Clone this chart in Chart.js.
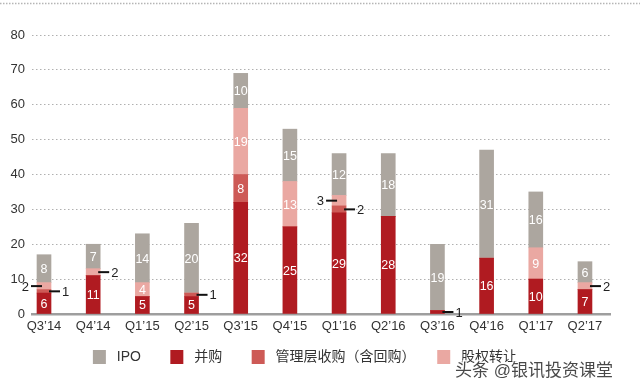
<!DOCTYPE html>
<html>
<head>
<meta charset="utf-8">
<script src="https://cdn.jsdelivr.net/npm/chart.js@4.4.0/dist/chart.umd.min.js"></script>
<style>
html, body { margin: 0; padding: 0; background: #fff; }
#wrap { width: 640px; height: 388px; position: relative; }
</style>
</head>
<body>
<div id="wrap"><canvas id="myChart"></canvas></div>
<script>
var quarters = ["Q3’14", "Q4’14", "Q1’15", "Q2’15", "Q3’15", "Q4’15", "Q1’16", "Q2’16", "Q3’16", "Q4’16", "Q1’17", "Q2’17"];

// stacked bottom to top
var mna = [6, 11, 5, 5, 32, 25, 29, 28, 1, 16, 10, 7];     // 并购
var mbo = [1, 0, 0, 1, 8, 0, 2, 0, 0, 0, 0, 0];            // 管理层收购（含回购）
var equity = [2, 2, 4, 0, 19, 13, 3, 0, 0, 0, 9, 2];       // 股权转让
var ipo = [8, 7, 14, 20, 10, 15, 12, 18, 19, 31, 16, 6];   // IPO

var legendOrder = ["IPO", "并购", "管理层收购（含回购）", "股权转让"];

var latin = "'Liberation Sans', Arial, sans-serif";
var cjk = "'Liberation Sans', 'Noto Sans CJK SC', sans-serif";

var toPoints = (arr) => arr.map((v, i) => ({ x: i, y: v }));

var barLabels = {
    id: 'barLabels',
    afterDatasetsDraw(chart) {
        var ctx = chart.ctx;
        ctx.save();
        chart.data.datasets.forEach((ds, di) => {
            var meta = chart.getDatasetMeta(di);
            meta.data.forEach((bar, i) => {
                var v = ds.data[i].y;
                if (!v) return;
                var p = bar.getProps(['x', 'y', 'base', 'width'], true);
                var cy = (p.y + p.base) / 2;
                if (v >= 4) {
                    ctx.fillStyle = '#fff';
                    ctx.font = '12.5px ' + latin;
                    ctx.textAlign = 'center';
                    ctx.textBaseline = 'middle';
                    ctx.fillText(v, p.x, cy + 1);
                    return;
                }
                // small segment: leader line and number outside
                var left = ds.label === '股权转让' && mbo[i] > 0 && mbo[i] < 4;
                var edge = left ? p.x - p.width / 2 : p.x + p.width / 2;
                ctx.strokeStyle = '#111';
                ctx.lineWidth = 2;
                ctx.beginPath();
                if (left) {
                    ctx.moveTo(edge + 5, cy);
                    ctx.lineTo(edge - 6, cy);
                } else {
                    ctx.moveTo(edge - 2, cy);
                    ctx.lineTo(edge + 9, cy);
                }
                ctx.stroke();
                ctx.fillStyle = '#222';
                ctx.font = '13px ' + latin;
                ctx.textBaseline = 'middle';
                ctx.textAlign = left ? 'right' : 'left';
                ctx.fillText(v, left ? edge - 8 : edge + 11, cy + 1);
            });
        });
        ctx.restore();
    }
};

var decorations = {
    id: 'decorations',
    beforeDraw(chart) {
        var ctx = chart.ctx;
        ctx.save();
        ctx.strokeStyle = '#b5b5b5';
        ctx.lineWidth = 1.5;
        ctx.setLineDash([1.5, 1.5]);
        ctx.beginPath();
        ctx.moveTo(0, 3.5);
        ctx.lineTo(chart.width, 3.5);
        ctx.stroke();
        ctx.restore();
    },
    afterDraw(chart) {
        var ctx = chart.ctx;
        ctx.save();
        ctx.font = '17px ' + cjk;
        ctx.textBaseline = 'middle';
        ctx.textAlign = 'left';
        ctx.lineWidth = 3;
        ctx.strokeStyle = 'rgba(255,255,255,0.8)';
        ctx.strokeText('头条 @银讯投资课堂', 455, 371);
        ctx.fillStyle = 'rgba(40,40,40,0.85)';
        ctx.fillText('头条 @银讯投资课堂', 455, 371);
        ctx.restore();
    }
};

var trailing = { 'IPO': '     ', '并购': '     ', '管理层收购（含回购）': '   ', '股权转让': '' };

new Chart(document.getElementById('myChart'), {
    type: 'bar',
    data: {
        datasets: [
            { label: '并购', data: toPoints(mna), backgroundColor: '#b01b21' },
            { label: '管理层收购（含回购）', data: toPoints(mbo), backgroundColor: '#cd5a56' },
            { label: '股权转让', data: toPoints(equity), backgroundColor: '#eaa8a2' },
            { label: 'IPO', data: toPoints(ipo), backgroundColor: '#aca69f' }
        ]
    },
    options: {
        responsive: true,
        maintainAspectRatio: false,
        animation: false,
        barThickness: 14,
        layout: { padding: { top: 35, right: 30, bottom: 14, left: 0 } },
        scales: {
            x: {
                type: 'linear',
                stacked: true,
                offset: false,
                min: -0.244,
                max: 11.509,
                afterBuildTicks: (s) => { s.ticks = quarters.map((q, i) => ({ value: i })); },
                afterFit: (s) => { s.height = 26; },
                grid: { display: false, drawTicks: false },
                border: { display: true, color: '#9e9e9e', width: 2.5 },
                ticks: {
                    autoSkip: false,
                    maxRotation: 0,
                    padding: 5,
                    color: '#333',
                    font: { family: latin, size: 13 },
                    callback: (v) => quarters[v]
                }
            },
            y: {
                stacked: true,
                min: 0,
                max: 80,
                afterFit: (s) => { s.width = 32; },
                border: { display: false, dash: [1.5, 2.5] },
                grid: { color: '#b0b0b0', lineWidth: 1, drawTicks: false },
                ticks: {
                    stepSize: 10,
                    padding: 7,
                    color: '#333',
                    font: { family: latin, size: 13 }
                }
            }
        },
        plugins: {
            tooltip: { enabled: false },
            legend: {
                position: 'bottom',
                labels: {
                    boxWidth: 13,
                    boxHeight: 14,
                    padding: 10,
                    color: '#333',
                    font: { family: cjk, size: 14 },
                    generateLabels: (chart) => {
                        var items = Chart.defaults.plugins.legend.labels.generateLabels(chart);
                        items.forEach((it) => {
                            it.text = ' ' + it.text + trailing[it.text];
                        });
                        return items;
                    },
                    sort: (a, b) => legendOrder.indexOf(a.text.trim()) - legendOrder.indexOf(b.text.trim())
                }
            }
        }
    },
    plugins: [barLabels, decorations]
});
</script>
</body>
</html>
